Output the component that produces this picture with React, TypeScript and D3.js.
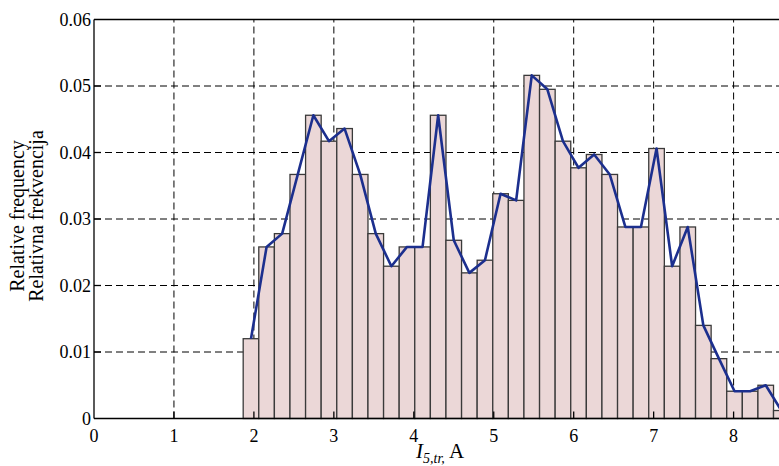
import { useEffect, useRef } from "react";
import * as d3 from "d3";

const W = 779, H = 466;
const X0 = 94, PX_PER_UNIT = 79.95;
const Y_TOP = 19.5, Y_BOT = 418.5;

// histogram: 35 equal bins starting at BIN_START
const BIN_START = 1.866;
const BIN_WIDTH = 0.1951;
const FREQ = [
  0.0120, 0.0258, 0.0278, 0.0367, 0.0456, 0.0417, 0.0436, 0.0367, 0.0278, 0.0229,
  0.0258, 0.0258, 0.0456, 0.0268, 0.0219, 0.0238, 0.0338, 0.0328, 0.0516, 0.0495,
  0.0417, 0.0377, 0.0397, 0.0367, 0.0288, 0.0288, 0.0406, 0.0229, 0.0288, 0.0140,
  0.0090, 0.0041, 0.0041, 0.0050, 0.0012,
];
const X_TICKS = [0, 1, 2, 3, 4, 5, 6, 7, 8];
const Y_TICKS = [0, 0.01, 0.02, 0.03, 0.04, 0.05, 0.06];
const Y_LABELS = ["Relative frequency", "Relativna frekvencija"];

const FONT = "'Liberation Serif', 'Times New Roman', serif";
const BAR_FILL = "#ebd7d7";
const BAR_STROKE = "#3a3a3a";
const LINE = "#1c2f8e";

export default function App() {
  const svgRef = useRef<SVGSVGElement>(null);

  useEffect(() => {
    const svg = d3.select(svgRef.current);
    svg.selectAll("*").remove();

    const x = d3.scaleLinear().domain([0, 9]).range([X0, X0 + 9 * PX_PER_UNIT]);
    const y = d3.scaleLinear().domain([0, 0.06]).range([Y_BOT, Y_TOP]);
    const xR = x.range()[1];

    const bins = FREQ.map((f, i) => ({
      x0: BIN_START + i * BIN_WIDTH,
      x1: BIN_START + (i + 1) * BIN_WIDTH,
      f,
    }));

    // grid (dashed, behind bars)
    const grid = svg.append("g").attr("stroke", "#000").attr("stroke-width", 1).attr("stroke-dasharray", "7,4");
    grid.selectAll(".gx").data(X_TICKS.slice(1)).join("line")
      .attr("x1", d => x(d)).attr("x2", d => x(d))
      .attr("y1", Y_BOT).attr("y2", Y_TOP);
    grid.selectAll(".gy").data(Y_TICKS.slice(1, -1)).join("line")
      .attr("x1", X0).attr("x2", xR)
      .attr("y1", d => y(d)).attr("y2", d => y(d));

    // bars
    svg.append("g").selectAll("rect").data(bins).join("rect")
      .attr("x", d => x(d.x0))
      .attr("width", d => x(d.x1) - x(d.x0))
      .attr("y", d => y(d.f))
      .attr("height", d => Y_BOT - y(d.f))
      .attr("fill", BAR_FILL)
      .attr("stroke", BAR_STROKE)
      .attr("stroke-width", 1.3);

    // frequency polygon through bin centres
    const line = d3.line<{ x0: number; x1: number; f: number }>()
      .x(d => x((d.x0 + d.x1) / 2))
      .y(d => y(d.f));
    svg.append("path").datum(bins)
      .attr("d", line)
      .attr("fill", "none")
      .attr("stroke", LINE)
      .attr("stroke-width", 2.6)
      .attr("stroke-linejoin", "round");

    // axes box
    const ax = svg.append("g").attr("stroke", "#000").attr("stroke-width", 1.3);
    ax.append("line").attr("x1", X0).attr("x2", xR).attr("y1", Y_BOT).attr("y2", Y_BOT);
    ax.append("line").attr("x1", X0).attr("x2", xR).attr("y1", Y_TOP).attr("y2", Y_TOP);
    ax.append("line").attr("x1", X0).attr("x2", X0).attr("y1", Y_TOP).attr("y2", Y_BOT);

    // inward ticks
    ax.selectAll(".tx").data(X_TICKS.slice(1)).join("line")
      .attr("x1", d => x(d)).attr("x2", d => x(d))
      .attr("y1", Y_BOT).attr("y2", Y_BOT - 7);
    ax.selectAll(".ty").data(Y_TICKS.slice(1, -1)).join("line")
      .attr("x1", X0).attr("x2", X0 + 7)
      .attr("y1", d => y(d)).attr("y2", d => y(d));

    // tick labels
    const lab = svg.append("g").attr("font-family", FONT).attr("font-size", 18).attr("fill", "#000");
    lab.selectAll(".lx").data(X_TICKS).join("text")
      .attr("x", d => x(d)).attr("y", Y_BOT + 23)
      .attr("text-anchor", "middle")
      .text(d => String(d));
    lab.selectAll(".ly").data(Y_TICKS).join("text")
      .attr("x", X0 - 3).attr("y", d => y(d) + 6)
      .attr("text-anchor", "end")
      .text(d => (d === 0 ? "0" : d.toFixed(2)));

    // x label
    const xl = svg.append("text")
      .attr("x", 416).attr("y", 458)
      .attr("font-family", FONT).attr("font-size", 21);
    xl.append("tspan").attr("font-style", "italic").text("I");
    xl.append("tspan").attr("font-style", "italic").attr("font-size", 14).attr("dy", 5).text("5,tr,");
    xl.append("tspan").attr("dy", -5).text(" A");

    // y label (two lines)
    svg.append("g").selectAll("text").data(Y_LABELS).join("text")
      .attr("transform", (_, i) => `translate(${i === 0 ? 24 : 43},216) rotate(-90)`)
      .attr("text-anchor", "middle")
      .attr("font-family", FONT).attr("font-size", 20)
      .text(d => d);
  }, []);

  return (
    <div style={{ position: "absolute", left: 0, top: 0, width: W, height: H, background: "#fff" }}>
      <svg ref={svgRef} width={W} height={H} style={{ display: "block", overflow: "hidden" }} />
    </div>
  );
}
